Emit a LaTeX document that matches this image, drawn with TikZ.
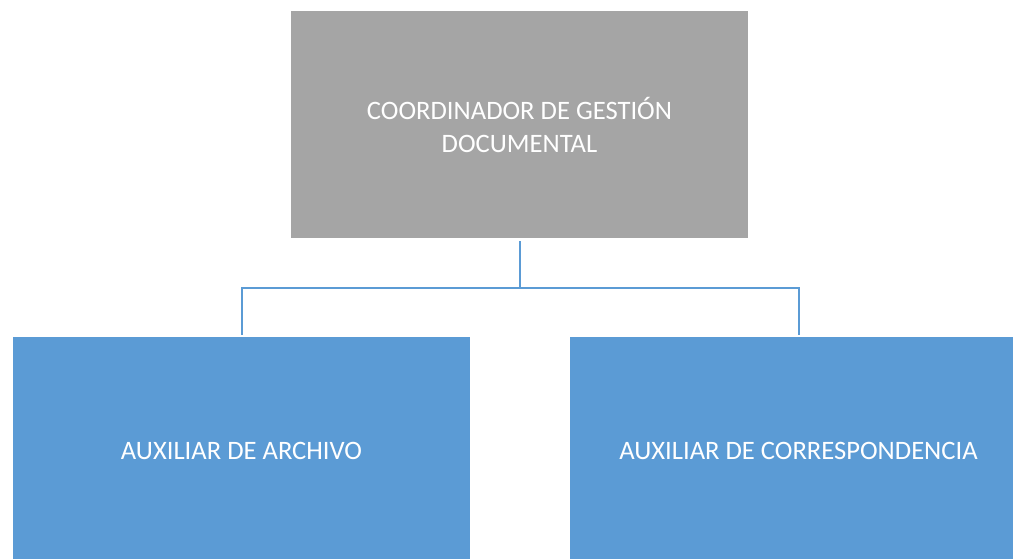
\documentclass[tikz,border=0pt]{standalone}
\usepackage{fontspec}
\setmainfont{Carlito}
\usepackage{xcolor}
\usetikzlibrary{positioning,calc}
\definecolor{grisbox}{HTML}{A5A5A5}
\definecolor{azulbox}{HTML}{5B9BD5}
\begin{document}
\begin{tikzpicture}[x=1pt,y=1pt,
				box/.style={
					align=center, text=white,
					minimum width=457pt,
					minimum height=227pt,
					inner sep=0pt,
					font=\fontsize{26.6}{33}\selectfont,
				},
				conn/.style={draw=azulbox, line width=2pt}
				]
				\useasboundingbox (0,0) rectangle (1013,558);
				\node[box, fill=grisbox] (coord) at (519.5,433.5) {COORDINADOR DE GESTIÓN\\DOCUMENTAL};
				\node[box, fill=azulbox] (aux1) at (241.5,107.5) {AUXILIAR DE ARCHIVO};
				\node[box, fill=azulbox] (aux2) at (798.5,107.5) {AUXILIAR DE CORRESPONDENCIA};
				
				\draw[conn] ([yshift=-3pt]coord.south) -- ++(0,-47) -| ([yshift=2pt]aux1.north);
				\draw[conn] ([yshift=-3pt]coord.south) -- ++(0,-47) -| ([yshift=2pt]aux2.north);
			\end{tikzpicture}
\end{document}
